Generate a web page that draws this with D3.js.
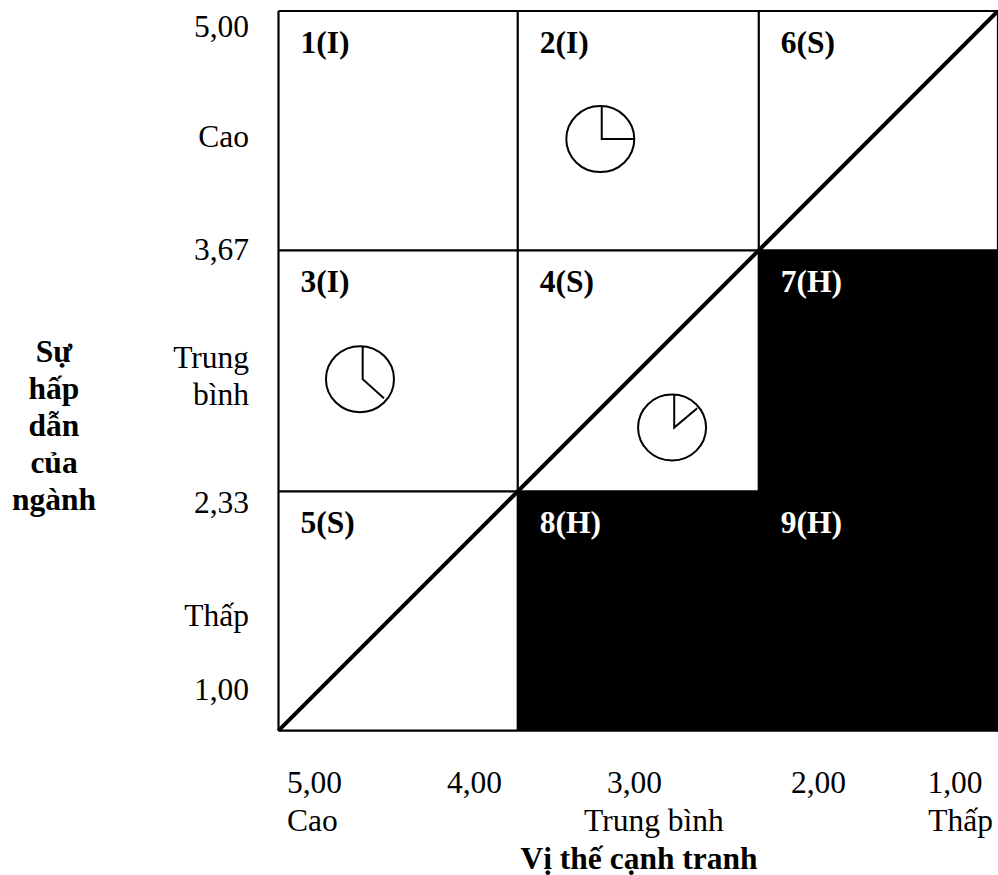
<!DOCTYPE html>
<html><head><meta charset="utf-8"><script src="https://cdn.jsdelivr.net/npm/d3@7"></script>
<style>html,body{margin:0;background:#fff}svg{display:block}text{font-family:"Liberation Serif","Times New Roman",serif;font-size:31.5px;fill:#000}</style></head>
<body><svg id="c" width="998" height="875"></svg>
<script>
const cellLabels=["1(I)","2(I)","6(S)","3(I)","4(S)","7(H)","5(S)","8(H)","9(H)"];
const cellCols=[0,1,2,0,1,2,0,1,2];
const cellRows=[0,0,0,1,1,1,2,2,2];
const blackCells=["7(H)","8(H)","9(H)"];
const xEdges=[5,3.67,2.33,1];
const yEdges=[5,3.67,2.33,1];
const yTickLabels=["5,00","3,67","2,33","1,00"];
const xTickLabels=["5,00","4,00","3,00","2,00","1,00"];
const yTitle=["Sự","hấp","dẫn","của","ngành"];
const pieX=[3.203,4.532,2.8];
const pieY=[4.288,2.954,2.685];
const pieRimX=[3.211,4.547,2.812];
const pieAngleDeg=[90,132,50];
const pieSpokeLen=[32,28.6,30];
const svg=d3.select("#c");
const x=d3.scaleLinear().domain([5,1]).range([278.5,998]);
const y=d3.scaleLinear().domain([5,1]).range([11,730.7]);
cellLabels.forEach((l,i)=>{
  const x0=x(xEdges[cellCols[i]]),x1=x(xEdges[cellCols[i]+1]),y0=y(yEdges[cellRows[i]]),y1=y(yEdges[cellRows[i]+1]);
  if(blackCells.includes(l))svg.append("rect").attr("x",x0).attr("y",y0).attr("width",x1-x0).attr("height",y1-y0).attr("fill","#000");
});
const ln=(a,b,c,d,w)=>svg.append("line").attr("x1",a).attr("y1",b).attr("x2",c).attr("y2",d).attr("stroke","#000").attr("stroke-width",w);
xEdges.forEach(e=>{ln(x(e),y(5),x(e),y(1),2.2);ln(x(5),y(e),x(1),y(e),2.2)});
ln(x(5),y(1),x(1),y(5),4);
cellLabels.forEach((l,i)=>{
  svg.append("text").text(l).attr("x",x(xEdges[cellCols[i]])+22).attr("y",y(yEdges[cellRows[i]])+42)
   .style("font-weight","bold").style("fill",blackCells.includes(l)?"#fff":"#000");
});
pieX.forEach((p,i)=>{
  svg.append("ellipse").attr("cx",x(pieRimX[i])).attr("cy",y(pieY[i])).attr("rx",34).attr("ry",33)
    .attr("fill","#fff").attr("stroke","#000").attr("stroke-width",2);
  const [tx,ty]=d3.pointRadial(0,33),[ex,ey]=d3.pointRadial(pieAngleDeg[i]*Math.PI/180,pieSpokeLen[i]);
  svg.append("path").attr("transform",`translate(${x(p)},${y(pieY[i])})`)
    .attr("d",d3.line()([[tx,ty],[0,0],[ex,ey]])).attr("fill","none").attr("stroke","#000").attr("stroke-width",2);
});
const txt=(t,px,py,anchor,bold)=>{const e=svg.append("text").text(t).attr("x",px).attr("y",py).attr("text-anchor",anchor||"start");if(bold)e.style("font-weight","bold");return e};
[37,260,513,700].forEach((py,i)=>txt(yTickLabels[i],249,py,"end"));
txt("Cao",249,147,"end");txt("Trung",249,368,"end");txt("bình",249,405,"end");txt("Thấp",249,626,"end");
yTitle.forEach((t,i)=>txt(t,54,362+i*37,"middle",true));
[314.5,474.5,634.5,818.5,955].forEach((p,i)=>txt(xTickLabels[i],p,793,"middle"));
txt("Cao",287,831);txt("Trung bình",654,831,"middle");txt("Thấp",993,831,"end");
txt("Vị thế cạnh tranh",639,869,"middle",true);
</script></body></html>
